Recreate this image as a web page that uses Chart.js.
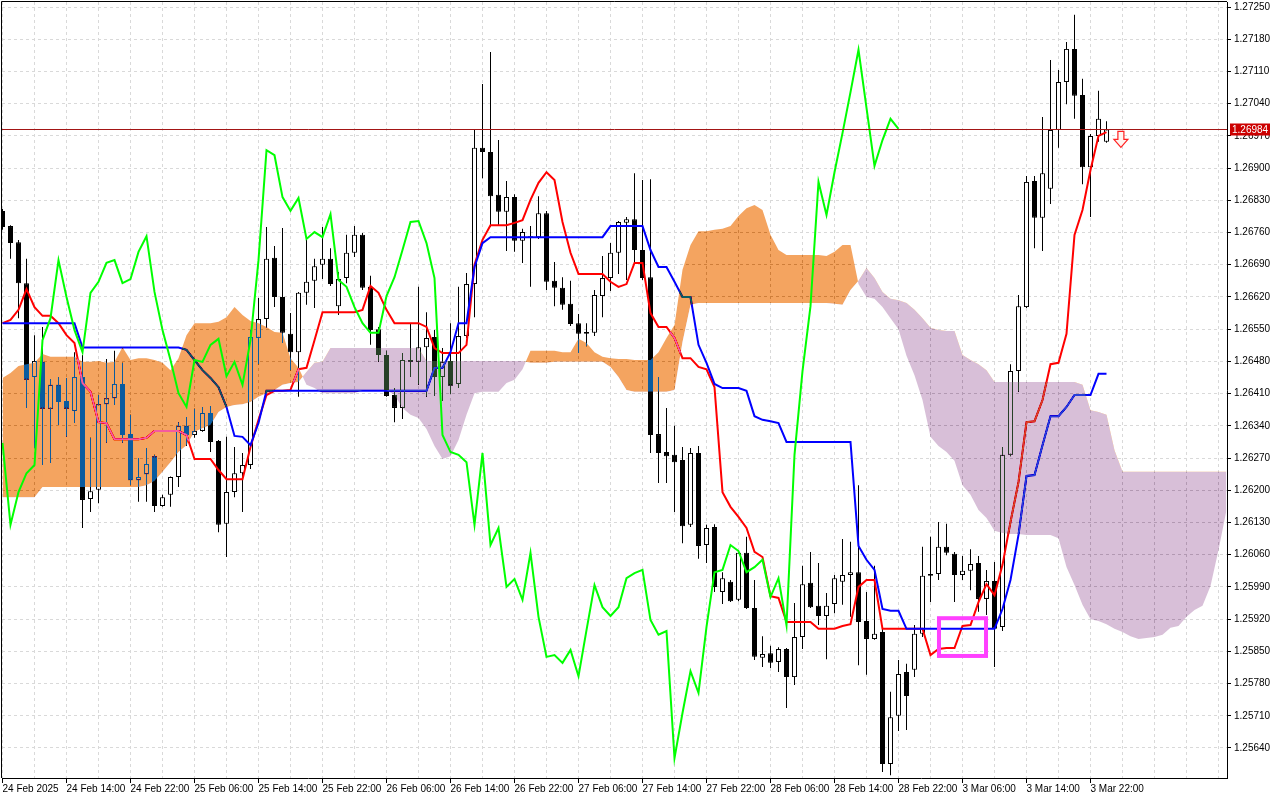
<!DOCTYPE html>
<html lang="es">
<head>
    <meta charset="UTF-8">
    <title>GBPUSD H1 - Ichimoku</title>
    <script src="https://cdn.jsdelivr.net/npm/chart.js"></script>
    <style>
        html, body { margin: 0; padding: 0; background: #ffffff; }
    </style>
</head>
<body>

    <canvas id="grafico" width="1280" height="800"></canvas>

    <script>
        // Etiquetas del eje de tiempo (una cada 8 barras horarias)
        const etiquetasX = ["24 Feb 2025", "24 Feb 14:00", "24 Feb 22:00", "25 Feb 06:00", "25 Feb 14:00", "25 Feb 22:00",
            "26 Feb 06:00", "26 Feb 14:00", "26 Feb 22:00", "27 Feb 06:00", "27 Feb 14:00", "27 Feb 22:00",
            "28 Feb 06:00", "28 Feb 14:00", "28 Feb 22:00", "3 Mar 06:00", "3 Mar 14:00", "3 Mar 22:00"];

        // Niveles del eje de precios
        const ticksY = [1.25640, 1.25710, 1.25780, 1.25850, 1.25920, 1.25990, 1.26060, 1.26130, 1.26200, 1.26270,
            1.26340, 1.26410, 1.26480, 1.26550, 1.26620, 1.26690, 1.26760, 1.26830, 1.26900, 1.26970,
            1.27040, 1.27110, 1.27180, 1.27250];

        // Velas H1
        const apertura = [
            1.26807, 1.26774, 1.26739, 1.26650, 1.26446, 1.26479, 1.26377, 1.26429, 1.26394, 1.26372,
            1.26446, 1.26181, 1.26201, 1.26387, 1.26400, 1.26431, 1.26322, 1.26222, 1.26235, 1.26274,
            1.26166, 1.26190, 1.26229, 1.26340, 1.26320, 1.26329, 1.26368, 1.26307, 1.26127, 1.26196,
            1.26237, 1.26255, 1.26531, 1.26572, 1.26705, 1.26620, 1.26540, 1.26500, 1.26629, 1.26655,
            1.26690, 1.26703, 1.26600, 1.26661, 1.26716, 1.26755, 1.26642, 1.26550, 1.26494, 1.26407,
            1.26379, 1.26483, 1.26479, 1.26511, 1.26533, 1.26446, 1.26481, 1.26431, 1.26535, 1.26648,
            1.26944, 1.26935, 1.26842, 1.26805, 1.26837, 1.26742, 1.26752, 1.26750, 1.26802, 1.26655,
            1.26640, 1.26605, 1.26563, 1.26544, 1.26542, 1.26622, 1.26661, 1.26716, 1.26781, 1.26789,
            1.26722, 1.26663, 1.26322, 1.26283, 1.26277, 1.26266, 1.26125, 1.26281, 1.26081, 1.26120,
            1.25979, 1.26001, 1.25962, 1.26064, 1.25944, 1.25836, 1.25846, 1.25827, 1.25855, 1.25794,
            1.25881, 1.25999, 1.25949, 1.25927, 1.25953, 1.26001, 1.26016, 1.26022, 1.25916, 1.25877,
            1.25892, 1.25605, 1.25710, 1.25805, 1.25810, 1.25888, 1.26014, 1.26018, 1.26077, 1.26062,
            1.26016, 1.26025, 1.26042, 1.25964, 1.26003, 1.25903, 1.26277, 1.26459, 1.26598, 1.26872,
            1.26792, 1.26855, 1.26983, 1.27087, 1.27159, 1.27059, 1.26902, 1.26970, 1.26957];
        const maximo = [
            1.26811, 1.26776, 1.26744, 1.26703, 1.26537, 1.26555, 1.26442, 1.26446, 1.26444, 1.26500,
            1.26494, 1.26314, 1.26407, 1.26485, 1.26503, 1.26477, 1.26364, 1.26270, 1.26292, 1.26277,
            1.26190, 1.26230, 1.26348, 1.26359, 1.26377, 1.26381, 1.26383, 1.26309, 1.26316, 1.26294,
            1.26281, 1.26548, 1.26618, 1.26772, 1.26731, 1.26770, 1.26585, 1.26631, 1.26744, 1.26703,
            1.26772, 1.26726, 1.26674, 1.26755, 1.26774, 1.26759, 1.26666, 1.26555, 1.26503, 1.26422,
            1.26498, 1.26563, 1.26642, 1.26587, 1.26548, 1.26509, 1.26563, 1.26642, 1.26672, 1.26985,
            1.27083, 1.27152, 1.26961, 1.26872, 1.26843, 1.26768, 1.26774, 1.26839, 1.26807, 1.26696,
            1.26663, 1.26655, 1.26583, 1.26563, 1.26635, 1.26709, 1.26737, 1.26785, 1.26794, 1.26889,
            1.26874, 1.26876, 1.26446, 1.26379, 1.26340, 1.26294, 1.26292, 1.26296, 1.26125, 1.26126,
            1.26022, 1.26005, 1.26070, 1.26099, 1.26005, 1.25883, 1.25862, 1.25859, 1.25857, 1.25955,
            1.26036, 1.26066, 1.26042, 1.25977, 1.26016, 1.26094, 1.26088, 1.26211, 1.25979, 1.26036,
            1.25903, 1.25762, 1.25831, 1.25823, 1.25907, 1.26077, 1.26099, 1.26131, 1.26127, 1.26066,
            1.26057, 1.26072, 1.26057, 1.26027, 1.26044, 1.26294, 1.26474, 1.26624, 1.26883, 1.26883,
            1.27011, 1.27135, 1.27113, 1.27174, 1.27233, 1.27094, 1.26974, 1.27068, 1.27002];
        const minimo = [
            1.26766, 1.26703, 1.26574, 1.26379, 1.26292, 1.26255, 1.26259, 1.26342, 1.26316, 1.26346,
            1.26118, 1.26153, 1.26172, 1.26303, 1.26385, 1.26303, 1.26211, 1.26175, 1.26175, 1.26153,
            1.26164, 1.26164, 1.26207, 1.26296, 1.26314, 1.26327, 1.26283, 1.26109, 1.26055, 1.26185,
            1.26153, 1.26246, 1.26474, 1.26553, 1.26598, 1.26520, 1.26461, 1.26403, 1.26603, 1.26596,
            1.26659, 1.26644, 1.26581, 1.26650, 1.26707, 1.26635, 1.26516, 1.26479, 1.26403, 1.26348,
            1.26355, 1.26446, 1.26429, 1.26403, 1.26405, 1.26394, 1.26409, 1.26422, 1.26531, 1.26576,
            1.26878, 1.26772, 1.26776, 1.26720, 1.26718, 1.26694, 1.26642, 1.26746, 1.26635, 1.26600,
            1.26592, 1.26557, 1.26498, 1.26513, 1.26535, 1.26576, 1.26633, 1.26670, 1.26657, 1.26694,
            1.26657, 1.26281, 1.26216, 1.26216, 1.26153, 1.26085, 1.26120, 1.26051, 1.26042, 1.25979,
            1.25953, 1.25957, 1.25959, 1.25942, 1.25831, 1.25816, 1.25814, 1.25805, 1.25727, 1.25777,
            1.25855, 1.25944, 1.25907, 1.25833, 1.25933, 1.25951, 1.25925, 1.25820, 1.25799, 1.25875,
            1.25588, 1.25581, 1.25677, 1.25679, 1.25794, 1.25881, 1.25957, 1.26005, 1.26059, 1.25957,
            1.26005, 1.25983, 1.25936, 1.25929, 1.25816, 1.25894, 1.26274, 1.26414, 1.26596, 1.26726,
            1.26720, 1.26822, 1.26944, 1.27039, 1.27007, 1.26865, 1.26794, 1.26957, 1.26955];
        const cierre = [
            1.26772, 1.26737, 1.26650, 1.26440, 1.26481, 1.26377, 1.26429, 1.26392, 1.26377, 1.26446,
            1.26179, 1.26198, 1.26387, 1.26400, 1.26431, 1.26320, 1.26222, 1.26229, 1.26257, 1.26166,
            1.26185, 1.26229, 1.26340, 1.26320, 1.26329, 1.26368, 1.26305, 1.26125, 1.26196, 1.26237,
            1.26255, 1.26533, 1.26572, 1.26703, 1.26620, 1.26542, 1.26500, 1.26629, 1.26653, 1.26687,
            1.26703, 1.26648, 1.26659, 1.26716, 1.26755, 1.26640, 1.26548, 1.26494, 1.26405, 1.26379,
            1.26483, 1.26479, 1.26511, 1.26531, 1.26446, 1.26479, 1.26427, 1.26535, 1.26648, 1.26944,
            1.26935, 1.26839, 1.26805, 1.26837, 1.26742, 1.26761, 1.26750, 1.26802, 1.26653, 1.26640,
            1.26603, 1.26561, 1.26540, 1.26540, 1.26624, 1.26661, 1.26716, 1.26783, 1.26789, 1.26722,
            1.26661, 1.26320, 1.26281, 1.26274, 1.26261, 1.26122, 1.26281, 1.26079, 1.26118, 1.25990,
            1.26009, 1.25959, 1.26064, 1.25944, 1.25838, 1.25844, 1.25825, 1.25855, 1.25794, 1.25881,
            1.25996, 1.25946, 1.25927, 1.25949, 1.26009, 1.26016, 1.26022, 1.25914, 1.25877, 1.25888,
            1.25605, 1.25707, 1.25801, 1.25753, 1.25888, 1.26014, 1.26018, 1.26077, 1.26064, 1.26016,
            1.26025, 1.26040, 1.25964, 1.26003, 1.25899, 1.26277, 1.26459, 1.26600, 1.26870, 1.26792,
            1.26889, 1.26983, 1.27087, 1.27159, 1.27057, 1.26902, 1.26970, 1.27007, 1.26984];

        // Ichimoku
        const tenkan = [
            1.26563, 1.26570, 1.26592, 1.26637, 1.26598, 1.26579, 1.26579, 1.26563, 1.26537, 1.26520,
            1.26433, 1.26414, 1.26348, 1.26346, 1.26311, 1.26311, 1.26311, 1.26311, 1.26314, 1.26329,
            1.26329, 1.26329, 1.26329, 1.26320, 1.26268, 1.26268, 1.26268, 1.26244, 1.26224, 1.26224,
            1.26224, 1.26294, 1.26353, 1.26407, 1.26416, 1.26416, 1.26418, 1.26463, 1.26466, 1.26526,
            1.26587, 1.26587, 1.26587, 1.26587, 1.26587, 1.26592, 1.26644, 1.26629, 1.26592, 1.26563,
            1.26563, 1.26563, 1.26563, 1.26555, 1.26509, 1.26498, 1.26498, 1.26498, 1.26516, 1.26690,
            1.26744, 1.26776, 1.26776, 1.26776, 1.26781, 1.26787, 1.26831, 1.26868, 1.26891, 1.26874,
            1.26783, 1.26716, 1.26670, 1.26670, 1.26670, 1.26670, 1.26653, 1.26642, 1.26648, 1.26694,
            1.26694, 1.26585, 1.26555, 1.26555, 1.26531, 1.26487, 1.26487, 1.26468, 1.26463, 1.26424,
            1.26196, 1.26164, 1.26142, 1.26118, 1.26066, 1.26055, 1.25970, 1.25966, 1.25914, 1.25914,
            1.25914, 1.25914, 1.25899, 1.25899, 1.25899, 1.25905, 1.25909, 1.25990, 1.26005, 1.26005,
            1.25899, 1.25899, 1.25899, 1.25899, 1.25899, 1.25899, 1.25842, 1.25855, 1.25857, 1.25857,
            1.25905, 1.25907, 1.25957, 1.25996, 1.25972, 1.26038, 1.26131, 1.26218, 1.26348, 1.26350,
            1.26396, 1.26474, 1.26477, 1.26540, 1.26755, 1.26809, 1.26896, 1.26970, 1.26978];
        const kijun = [
            1.26563, 1.26563, 1.26563, 1.26563, 1.26563, 1.26563, 1.26563, 1.26563, 1.26563, 1.26563,
            1.26510, 1.26510, 1.26510, 1.26510, 1.26510, 1.26510, 1.26510, 1.26510, 1.26510, 1.26510,
            1.26510, 1.26510, 1.26510, 1.26505, 1.26483, 1.26461, 1.26444, 1.26424, 1.26381, 1.26318,
            1.26316, 1.26298, 1.26346, 1.26416, 1.26416, 1.26416, 1.26416, 1.26416, 1.26416, 1.26416,
            1.26416, 1.26416, 1.26416, 1.26416, 1.26416, 1.26416, 1.26416, 1.26416, 1.26416, 1.26416,
            1.26416, 1.26416, 1.26416, 1.26416, 1.26466, 1.26466, 1.26500, 1.26563, 1.26563, 1.26685,
            1.26737, 1.26750, 1.26750, 1.26750, 1.26750, 1.26750, 1.26750, 1.26750, 1.26750, 1.26750,
            1.26750, 1.26750, 1.26750, 1.26750, 1.26750, 1.26750, 1.26774, 1.26774, 1.26774, 1.26774,
            1.26774, 1.26722, 1.26685, 1.26685, 1.26653, 1.26620, 1.26620, 1.26516, 1.26477, 1.26431,
            1.26422, 1.26422, 1.26422, 1.26416, 1.26361, 1.26353, 1.26350, 1.26346, 1.26305, 1.26305,
            1.26305, 1.26305, 1.26305, 1.26305, 1.26305, 1.26305, 1.26305, 1.26079, 1.26049, 1.26027,
            1.25942, 1.25938, 1.25938, 1.25899, 1.25899, 1.25899, 1.25899, 1.25899, 1.25899, 1.25899,
            1.25899, 1.25899, 1.25899, 1.25899, 1.25899, 1.25942, 1.26005, 1.26103, 1.26231, 1.26233,
            1.26298, 1.26361, 1.26361, 1.26381, 1.26407, 1.26407, 1.26407, 1.26453, 1.26453];
        const chikou = [
            1.26303, 1.26125, 1.26196, 1.26237, 1.26255, 1.26526, 1.26574, 1.26700, 1.26620, 1.26548,
            1.26500, 1.26629, 1.26653, 1.26694, 1.26700, 1.26650, 1.26659, 1.26718, 1.26752, 1.26631,
            1.26548, 1.26483, 1.26411, 1.26381, 1.26483, 1.26479, 1.26516, 1.26529, 1.26448, 1.26479,
            1.26429, 1.26526, 1.26700, 1.26939, 1.26928, 1.26837, 1.26807, 1.26835, 1.26746, 1.26761,
            1.26750, 1.26800, 1.26657, 1.26642, 1.26598, 1.26563, 1.26542, 1.26542, 1.26622, 1.26663,
            1.26722, 1.26783, 1.26785, 1.26737, 1.26661, 1.26320, 1.26283, 1.26277, 1.26261, 1.26125,
            1.26281, 1.26081, 1.26118, 1.25990, 1.26007, 1.25962, 1.26064, 1.25925, 1.25838, 1.25842,
            1.25825, 1.25853, 1.25796, 1.25896, 1.25994, 1.25946, 1.25927, 1.25946, 1.26009, 1.26020,
            1.26027, 1.25918, 1.25886, 1.25894, 1.25618, 1.25716, 1.25807, 1.25760, 1.25903, 1.26022,
            1.26027, 1.26081, 1.26068, 1.26022, 1.26033, 1.26049, 1.25968, 1.26009, 1.25907, 1.26277,
            1.26459, 1.26600, 1.26870, 1.26798, 1.26891, 1.26976, 1.27065, 1.27157, 1.27031, 1.26905,
            1.26961, 1.27007, 1.26985];
        const senkouA = [
            1.26444, 1.26455, 1.26470, 1.26474, 1.26477, 1.26496, 1.26490, 1.26490, 1.26490, 1.26490,
            1.26479, 1.26479, 1.26481, 1.26477, 1.26479, 1.26511, 1.26483, 1.26487, 1.26487, 1.26483,
            1.26477, 1.26461, 1.26487, 1.26537, 1.26563, 1.26563, 1.26563, 1.26566, 1.26576, 1.26598,
            1.26581, 1.26568, 1.26563, 1.26555, 1.26544, 1.26542, 1.26487, 1.26466, 1.26429, 1.26422,
            1.26411, 1.26411, 1.26411, 1.26411, 1.26411, 1.26418, 1.26418, 1.26418, 1.26418, 1.26407,
            1.26379, 1.26364, 1.26357, 1.26333, 1.26296, 1.26268, 1.26274, 1.26309, 1.26364, 1.26411,
            1.26414, 1.26414, 1.26414, 1.26433, 1.26440, 1.26463, 1.26503, 1.26503, 1.26503, 1.26503,
            1.26500, 1.26500, 1.26529, 1.26520, 1.26500, 1.26490, 1.26487, 1.26485, 1.26485, 1.26483,
            1.26483, 1.26483, 1.26500, 1.26531, 1.26559, 1.26679, 1.26733, 1.26763, 1.26763, 1.26766,
            1.26768, 1.26774, 1.26796, 1.26813, 1.26820, 1.26809, 1.26755, 1.26722, 1.26711, 1.26711,
            1.26711, 1.26711, 1.26711, 1.26709, 1.26718, 1.26733, 1.26733, 1.26648, 1.26620, 1.26616,
            1.26598, 1.26574, 1.26550, 1.26492, 1.26450, 1.26396, 1.26316, 1.26296, 1.26283, 1.26264,
            1.26211, 1.26190, 1.26157, 1.26140, 1.26112, 1.26107, 1.26105, 1.26105, 1.26103, 1.26103,
            1.26103, 1.26103, 1.26096, 1.26033, 1.25994, 1.25951, 1.25920, 1.25916, 1.25909, 1.25899,
            1.25892, 1.25883, 1.25877, 1.25879, 1.25881, 1.25886, 1.25901, 1.25905, 1.25925, 1.25940,
            1.25949, 1.25992, 1.26070, 1.26157];
        const senkouB = [
            1.26185, 1.26185, 1.26185, 1.26185, 1.26185, 1.26207, 1.26207, 1.26207, 1.26207, 1.26207,
            1.26207, 1.26207, 1.26207, 1.26207, 1.26207, 1.26207, 1.26207, 1.26207, 1.26211, 1.26220,
            1.26240, 1.26261, 1.26283, 1.26298, 1.26327, 1.26335, 1.26342, 1.26370, 1.26381, 1.26385,
            1.26387, 1.26392, 1.26403, 1.26411, 1.26418, 1.26429, 1.26433, 1.26435, 1.26457, 1.26477,
            1.26479, 1.26509, 1.26509, 1.26509, 1.26509, 1.26509, 1.26509, 1.26509, 1.26509, 1.26509,
            1.26509, 1.26509, 1.26509, 1.26481, 1.26481, 1.26481, 1.26481, 1.26481, 1.26481, 1.26481,
            1.26481, 1.26481, 1.26481, 1.26481, 1.26481, 1.26481, 1.26477, 1.26477, 1.26477, 1.26479,
            1.26479, 1.26479, 1.26479, 1.26479, 1.26479, 1.26479, 1.26468, 1.26446, 1.26418, 1.26414,
            1.26414, 1.26414, 1.26414, 1.26414, 1.26418, 1.26522, 1.26603, 1.26607, 1.26607, 1.26607,
            1.26607, 1.26607, 1.26607, 1.26607, 1.26607, 1.26607, 1.26607, 1.26607, 1.26607, 1.26607,
            1.26607, 1.26607, 1.26607, 1.26607, 1.26605, 1.26603, 1.26635, 1.26655, 1.26683, 1.26661,
            1.26631, 1.26616, 1.26613, 1.26607, 1.26592, 1.26574, 1.26553, 1.26548, 1.26546, 1.26546,
            1.26494, 1.26483, 1.26474, 1.26461, 1.26435, 1.26435, 1.26435, 1.26435, 1.26435, 1.26435,
            1.26435, 1.26435, 1.26435, 1.26435, 1.26435, 1.26429, 1.26374, 1.26370, 1.26364, 1.26287,
            1.26240, 1.26240, 1.26240, 1.26240, 1.26240, 1.26240, 1.26240, 1.26240, 1.26240, 1.26240,
            1.26240, 1.26240, 1.26240, 1.26240];

        // Objetos del grafico
        const precioActual = 1.26984;
        const rectangulo = { desde: 117.06, hasta: 122.94, alto: 1.25922, bajo: 1.25840 };
        const flechaVenta = { barra: 139.8, precio: 1.26980 };

        const serie = arr => arr.map((v, i) => ({ x: i, y: v }));
        const mechas = apertura.map((o, i) => ({ x: i, y: [minimo[i], maximo[i]] }));
        const cuerpos = apertura.map((o, i) => ({ x: i, y: [o, cierre[i]] }));
        const colorCuerpo = apertura.map((o, i) => cierre[i] >= o ? '#ffffff' : '#000000');

        const marcasX = [];
        for (let v = 0; v <= 152; v += 4) marcasX.push(v);

        const fuente = { family: 'Liberation Sans', size: 10 };

        // fondo blanco, nube dibujada en modo "difference" (como el XOR de MT4) y objetos
        const pluginGrafico = {
            id: 'pluginGrafico',
            beforeDraw(chart) {
                const c = chart.ctx;
                c.save();
                c.fillStyle = '#ffffff';
                c.fillRect(0, 0, chart.width, chart.height);
                c.restore();
            },
            afterDatasetDraw(chart, args) {
                if (args.index === 4) chart.ctx.globalCompositeOperation = 'difference';
                else if (args.index === 5) chart.ctx.globalCompositeOperation = 'source-over';
            },
            afterDraw(chart) {
                const c = chart.ctx;
                const a = chart.chartArea;
                const sx = chart.scales.x, sy = chart.scales.y;
                c.save();

                // marco superior e izquierdo
                c.strokeStyle = '#000000';
                c.lineWidth = 1;
                c.beginPath();
                c.moveTo(a.left - 0.5, a.bottom);
                c.lineTo(a.left - 0.5, a.top - 0.5);
                c.lineTo(a.right, a.top - 0.5);
                c.stroke();

                // rectangulo magenta
                const rx1 = sx.getPixelForValue(rectangulo.desde), rx2 = sx.getPixelForValue(rectangulo.hasta);
                const ry1 = sy.getPixelForValue(rectangulo.alto), ry2 = sy.getPixelForValue(rectangulo.bajo);
                c.strokeStyle = '#ff40ff';
                c.lineWidth = 4;
                c.strokeRect(rx1, ry1, rx2 - rx1, ry2 - ry1);

                // linea de precio actual
                const yp = Math.round(sy.getPixelForValue(precioActual)) + 0.5;
                c.strokeStyle = '#a31515';
                c.lineWidth = 1;
                c.beginPath();
                c.moveTo(a.left, yp);
                c.lineTo(a.right, yp);
                c.stroke();

                // etiqueta de precio
                c.fillStyle = '#cc0000';
                c.fillRect(a.right + 3, yp - 6, 40, 12);
                c.fillStyle = '#ffffff';
                c.font = '10px "Liberation Sans"';
                c.textBaseline = 'middle';
                c.textAlign = 'left';
                c.fillText(precioActual.toFixed(5), a.right + 5, yp + 0.5);

                // flecha de venta
                const fx = sx.getPixelForValue(flechaVenta.barra);
                const fy = sy.getPixelForValue(flechaVenta.precio);
                c.beginPath();
                c.moveTo(fx - 3, fy);
                c.lineTo(fx + 3, fy);
                c.lineTo(fx + 3, fy + 8);
                c.lineTo(fx + 7, fy + 8);
                c.lineTo(fx, fy + 16);
                c.lineTo(fx - 7, fy + 8);
                c.lineTo(fx - 3, fy + 8);
                c.closePath();
                c.fillStyle = '#fff4f0';
                c.fill();
                c.strokeStyle = '#ff2020';
                c.lineWidth = 1.2;
                c.stroke();

                c.restore();
            }
        };

        const ctx = document.getElementById('grafico').getContext('2d');
        new Chart(ctx, {
            type: 'bar',
            data: {
                datasets: [
                    { type: 'bar', label: 'Mechas', data: mechas, backgroundColor: '#000000', borderWidth: 0,
                      barThickness: 1, grouped: false, inflateAmount: 0, order: 7 },
                    { type: 'bar', label: 'Velas', data: cuerpos, backgroundColor: colorCuerpo, borderColor: '#000000',
                      borderWidth: 1, borderSkipped: false, barThickness: 5, grouped: false, inflateAmount: 0, order: 6 },
                    { type: 'line', label: 'Tenkan-sen', data: serie(tenkan), borderColor: '#ff0000', borderWidth: 2,
                      pointRadius: 0, tension: 0, fill: false, order: 5 },
                    { type: 'line', label: 'Kijun-sen', data: serie(kijun), borderColor: '#0000ff', borderWidth: 2,
                      pointRadius: 0, tension: 0, fill: false, order: 4 },
                    { type: 'line', label: 'Senkou Span B', data: serie(senkouB), borderColor: 'rgba(0,0,0,0)', borderWidth: 0,
                      pointRadius: 0, tension: 0, fill: false, order: 3 },
                    { type: 'line', label: 'Senkou Span A', data: serie(senkouA), borderColor: 'rgba(0,0,0,0)', borderWidth: 0,
                      pointRadius: 0, tension: 0, order: 2,
                      fill: { target: 4, above: 'rgb(11,91,159)', below: 'rgb(39,64,39)' } },
                    { type: 'line', label: 'Chikou Span', data: serie(chikou), borderColor: '#00ff00', borderWidth: 2,
                      pointRadius: 0, tension: 0, fill: false, order: 1 }
                ]
            },
            options: {
                responsive: false,
                animation: false,
                devicePixelRatio: 1,
                layout: { padding: { left: 2, top: 2, right: 0, bottom: 0 } },
                plugins: { legend: { display: false }, tooltip: { enabled: false } },
                scales: {
                    x: {
                        type: 'linear', min: -0.0625, max: 153.0625, offset: false,
                        afterBuildTicks: s => { s.ticks = marcasX.map(v => ({ value: v })); },
                        afterFit: s => { s.height = 22; s.paddingLeft = 0; s.paddingRight = 0; },
                        ticks: {
                            autoSkip: false, maxRotation: 0, minRotation: 0, align: 'start', padding: 0,
                            color: '#000000', font: fuente,
                            callback: v => (v % 8 === 0 && etiquetasX[v / 8]) ? etiquetasX[v / 8] : ''
                        },
                        grid: {
                            offset: false, color: '#d9d9d9', lineWidth: 1, tickLength: 5,
                            tickColor: c => (c.tick && c.tick.value % 8 === 0 && c.tick.value <= 136) ? '#000000' : 'rgba(0,0,0,0)'
                        },
                        border: { color: '#000000', width: 1, dash: [3, 3] }
                    },
                    y: {
                        type: 'linear', position: 'right', min: 1.255748, max: 1.272609,
                        afterBuildTicks: s => { s.ticks = ticksY.map(v => ({ value: v })); },
                        afterFit: s => { s.width = 53; s.paddingTop = 0; s.paddingBottom = 0; },
                        ticks: { autoSkip: false, padding: 3, color: '#000000', font: fuente, callback: v => v.toFixed(5) },
                        grid: { color: '#d9d9d9', lineWidth: 1, tickLength: 4, tickColor: '#000000' },
                        border: { color: '#000000', width: 1, dash: [3, 3] }
                    }
                }
            },
            plugins: [pluginGrafico]
        });
    </script>

</body>
</html>
